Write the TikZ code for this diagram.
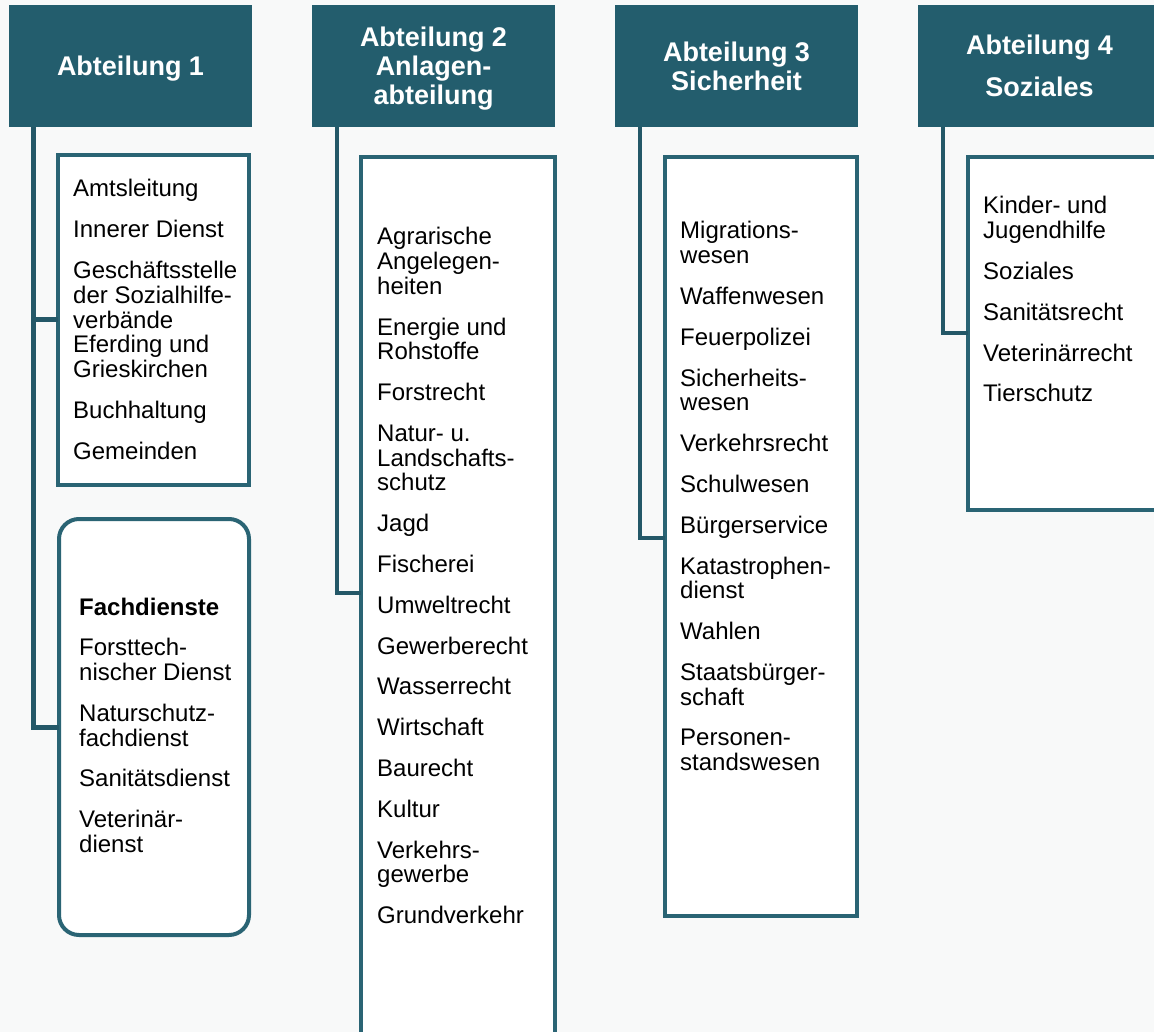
\documentclass[tikz,border=0pt]{standalone}
\usepackage{fontspec}
\setmainfont{Liberation Sans}
\definecolor{abtfill}{HTML}{235D6D}
\definecolor{abtline}{HTML}{2A6474}
\definecolor{abtconn}{HTML}{245868}
\definecolor{bgcol}{HTML}{F8F9F9}
\begin{document}
\begin{tikzpicture}[x=1pt,y=-1pt,
  head/.style={fill=abtfill,text=white,font=\bfseries\fontsize{27}{29}\selectfont,
    align=center,minimum width=243pt,minimum height=122pt,inner sep=0pt,text depth=0pt},
  list/.style={draw=abtline,line width=4pt,fill=white,anchor=north west,inner sep=0pt,outer sep=0pt},
  item/.style={anchor=base west,inner sep=0pt,font=\fontsize{24}{24.7}\selectfont},
  conn/.style={draw=abtconn,line width=4pt,line join=miter}]
\clip (0,0) rectangle (1154,1032);
\fill[bgcol] (0,0) rectangle (1154,1032);

%heads
\node[head] (abt1) at (130.5,66) {Abteilung 1};
\node[head] (abt2) at (433.5,66) {Abteilung 2\\Anlagen-\\abteilung};
\node[head] (abt3) at (736.5,66) {Abteilung 3\\Sicherheit};
\node[head] (abt4) at (1039.5,66) {Abteilung 4\\[13pt]Soziales};

%boxes
\node[list,minimum width=191pt,minimum height=330pt] (box1) at (58,155) {};
\node[list,rounded corners=20pt,minimum width=190pt,minimum height=416pt] (box1f) at (59,519) {};
\node[list,minimum width=194pt,minimum height=900pt] (box2) at (361,157) {};
\node[list,minimum width=192pt,minimum height=759pt] (box3) at (665,157) {};
\node[list,minimum width=250pt,minimum height=353pt] (box4) at (968,157) {};

%lines
\coordinate (j1) at (33.5,320);
\coordinate (j1f) at (33.5,727);
\draw[conn,line width=5pt] (abt1.south -| j1) -- (j1f) -- (j1f -| box1f.west);
\draw[conn,line width=5pt] (j1) -- (j1 -| box1.west);
\coordinate (j2) at (337,593);
\draw[conn] (abt2.south -| j2) -- (j2) -- (j2 -| box2.west);
\coordinate (j3) at (640,537.5);
\draw[conn] (abt3.south -| j3) -- (j3) -- (j3 -| box3.west);
\coordinate (j4) at (943,333);
\draw[conn] (abt4.south -| j4) -- (j4) -- (j4 -| box4.west);

%Abteilung 1
\node[item] (a1) at (73,197) {Amtsleitung};
\node[item] (a2) at (73,237.8) {Innerer Dienst};
\node[item] (a3) at (73,278.6) {Geschäftsstelle};
\node[item] (a4) at (73,303.3) {der Sozialhilfe-};
\node[item] (a5) at (73,328) {verbände};
\node[item] (a6) at (73,352.7) {Eferding und};
\node[item] (a7) at (73,377.4) {Grieskirchen};
\node[item] (a8) at (73,418.2) {Buchhaltung};
\node[item] (a9) at (73,459) {Gemeinden};

\node[item] (f1) at (79,615) {\bfseries Fachdienste};
\node[item] (f2) at (79,655.8) {Forsttech-};
\node[item] (f3) at (79,680.5) {nischer Dienst};
\node[item] (f4) at (79,721.3) {Naturschutz-};
\node[item] (f5) at (79,746) {fachdienst};
\node[item] (f6) at (79,786.8) {Sanitätsdienst};
\node[item] (f7) at (79,827.6) {Veterinär-};
\node[item] (f8) at (79,852.3) {dienst};

%Abteilung 2
\node[item] (b1) at (377,245) {Agrarische};
\node[item] (b2) at (377,269.7) {Angelegen-};
\node[item] (b3) at (377,294.4) {heiten};
\node[item] (b4) at (377,335.2) {Energie und};
\node[item] (b5) at (377,359.9) {Rohstoffe};
\node[item] (b6) at (377,400.7) {Forstrecht};
\node[item] (b7) at (377,441.5) {Natur- u.};
\node[item] (b8) at (377,466.2) {Landschafts-};
\node[item] (b9) at (377,490.9) {schutz};
\node[item] (b10) at (377,531.7) {Jagd};
\node[item] (b11) at (377,572.5) {Fischerei};
\node[item] (b12) at (377,613.3) {Umweltrecht};
\node[item] (b13) at (377,654.1) {Gewerberecht};
\node[item] (b14) at (377,694.9) {Wasserrecht};
\node[item] (b15) at (377,735.7) {Wirtschaft};
\node[item] (b16) at (377,776.5) {Baurecht};
\node[item] (b17) at (377,817.3) {Kultur};
\node[item] (b18) at (377,858.1) {Verkehrs-};
\node[item] (b19) at (377,882.8) {gewerbe};
\node[item] (b20) at (377,923.6) {Grundverkehr};

%Abteilung 3
\node[item] (c1) at (680,239) {Migrations-};
\node[item] (c2) at (680,263.7) {wesen};
\node[item] (c3) at (680,304.5) {Waffenwesen};
\node[item] (c4) at (680,345.3) {Feuerpolizei};
\node[item] (c5) at (680,386.1) {Sicherheits-};
\node[item] (c6) at (680,410.8) {wesen};
\node[item] (c7) at (680,451.6) {Verkehrsrecht};
\node[item] (c8) at (680,492.4) {Schulwesen};
\node[item] (c9) at (680,533.2) {Bürgerservice};
\node[item] (c10) at (680,574) {Katastrophen-};
\node[item] (c11) at (680,598.7) {dienst};
\node[item] (c12) at (680,639.5) {Wahlen};
\node[item] (c13) at (680,680.3) {Staatsbürger-};
\node[item] (c14) at (680,705) {schaft};
\node[item] (c15) at (680,745.8) {Personen-};
\node[item] (c16) at (680,770.5) {standswesen};

%Abteilung 4
\node[item] (d1) at (983,214) {Kinder- und};
\node[item] (d2) at (983,238.7) {Jugendhilfe};
\node[item] (d3) at (983,279.5) {Soziales};
\node[item] (d4) at (983,320.3) {Sanitätsrecht};
\node[item] (d5) at (983,361.1) {Veterinärrecht};
\node[item] (d6) at (983,401.9) {Tierschutz};
\end{tikzpicture}
\end{document}
